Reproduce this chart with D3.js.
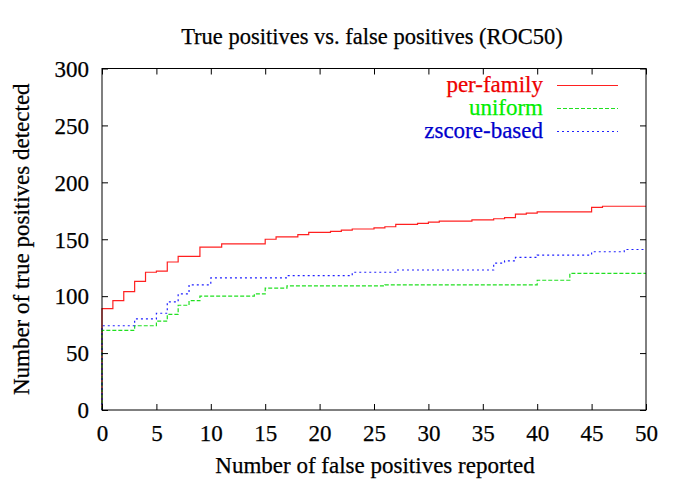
<!DOCTYPE html>
<html>
<head>
<meta charset="utf-8">
<script src="https://cdn.jsdelivr.net/npm/d3@7"></script>
<style>
  html, body { margin: 0; padding: 0; background: #fff; }
  svg { display: block; }
  svg text { font-family: "Liberation Serif", "Times New Roman", serif !important; }
</style>
</head>
<body>
<svg id="chart" width="685" height="479"></svg>
<script>
// ---- Data (step functions: value holds from x until next x) ----
const perFamilyX = [0, 0, 1, 2, 3, 4, 5, 6, 7, 9, 11, 15, 16, 18, 19, 21, 22, 23, 25, 26, 27, 29, 30, 31, 34, 36, 37, 38, 39, 40, 45, 46, 50];
const perFamilyY = [0, 89, 96, 104, 113, 121, 122, 130, 135, 143, 146, 150, 152, 154, 156, 157, 158, 159, 160, 161, 163, 164, 165, 166, 167, 168, 169, 172, 173, 174, 178, 179, 179];

const uniformX = [0, 0, 3, 5, 6, 7, 8, 9, 14, 15, 17, 26, 40, 43, 50];
const uniformY = [0, 70, 74, 78, 84, 92, 96, 100, 102, 107, 109, 110, 114, 120, 120];

const zscoreX = [0, 0, 3, 5, 6, 7, 8, 10, 17, 23, 27, 36, 37, 38, 40, 45, 48, 50];
const zscoreY = [0, 74, 80, 85, 95, 102, 110, 116, 118, 121, 123, 129, 131, 134, 136, 139, 141, 141];

const seriesNames = ["per-family", "uniform", "zscore-based"];
const seriesColors = ["#ff2020", "#20e020", "#2020ff"];
const seriesDash = [null, "4,2", "2,3"];

const xTicks = [0, 5, 10, 15, 20, 25, 30, 35, 40, 45, 50];
const yTicks = [0, 50, 100, 150, 200, 250, 300];

const titleText = "True positives vs. false positives (ROC50)";
const xLabel = "Number of false positives reported";
const yLabel = "Number of true positives detected";

// ---- Layout ----
const svg = d3.select("#chart");
const L = 102, R = 646, T = 68.5, B = 410;
const FONT = '"Liberation Serif", "Times New Roman", serif';

const x = d3.scaleLinear().domain([0, 50]).range([L, R]);
const y = d3.scaleLinear().domain([0, 300]).range([B, T]);

const series = [
  { name: seriesNames[0], xs: perFamilyX, ys: perFamilyY },
  { name: seriesNames[1], xs: uniformX, ys: uniformY },
  { name: seriesNames[2], xs: zscoreX, ys: zscoreY }
];

const line = d3.line()
  .x(d => x(d[0]))
  .y(d => y(d[1]))
  .curve(d3.curveStepAfter);

series.forEach((s, i) => {
  const pts = s.xs.map((v, k) => [v, s.ys[k]]);
  svg.append("path")
    .datum(pts)
    .attr("fill", "none")
    .attr("stroke", seriesColors[i])
    .attr("stroke-width", 1.2)
    .attr("stroke-dasharray", seriesDash[i])
    .attr("d", line);
});

// Frame
svg.append("rect")
  .attr("x", L).attr("y", T)
  .attr("width", R - L).attr("height", B - T)
  .attr("fill", "none").attr("stroke", "#000").attr("stroke-width", 1);

const tickLen = 6;
const fs = 23;

const xAxisB = d3.axisBottom(x).tickValues(xTicks).tickSize(-tickLen).tickPadding(0).tickFormat(d3.format("d"));
const gxB = svg.append("g").attr("transform", `translate(0,${B})`).call(xAxisB);
const xAxisT = d3.axisTop(x).tickValues(xTicks).tickSize(-tickLen).tickFormat("");
const gxT = svg.append("g").attr("transform", `translate(0,${T})`).call(xAxisT);
const yAxisL = d3.axisLeft(y).tickValues(yTicks).tickSize(-tickLen).tickPadding(0).tickFormat(d3.format("d"));
const gyL = svg.append("g").attr("transform", `translate(${L},0)`).call(yAxisL);
const yAxisR = d3.axisRight(y).tickValues(yTicks).tickSize(-tickLen).tickFormat("");
const gyR = svg.append("g").attr("transform", `translate(${R},0)`).call(yAxisR);

[gxB, gxT, gyL, gyR].forEach(g => {
  g.attr("font-family", FONT).attr("font-size", fs);
  g.select(".domain").remove();
  g.selectAll(".tick line").attr("stroke", "#000");
  g.selectAll("text")
    .attr("fill", "#000")
    .attr("stroke", "#000")
    .attr("stroke-width", 0.25);
});
gxB.selectAll(".tick text").attr("dy", null).attr("y", 31);
gyL.selectAll(".tick text").attr("x", -13).attr("dy", "0.34em");

function label(txt) {
  return svg.append("text")
    .attr("font-family", FONT)
    .attr("font-size", fs)
    .attr("fill", "#000")
    .attr("stroke", "#000")
    .attr("stroke-width", 0.25)
    .text(txt);
}

// Title
label(titleText)
  .attr("x", 372).attr("y", 44)
  .attr("font-size", 22.5)
  .attr("text-anchor", "middle");

// X label
label(xLabel)
  .attr("x", 375).attr("y", 473)
  .attr("text-anchor", "middle");

// Y label
label(yLabel)
  .attr("transform", `translate(29,${(T + B) / 2}) rotate(-90)`)
  .attr("text-anchor", "middle");

// Legend
const legendRows = [85, 108, 131];
const legendTextColors = ["#ee0000", "#00ee00", "#0000cc"];
series.forEach((s, i) => {
  const ly = legendRows[i];
  label(s.name)
    .attr("x", 543).attr("y", ly)
    .attr("dy", "0.32em")
    .attr("text-anchor", "end")
    .attr("fill", legendTextColors[i])
    .attr("stroke", legendTextColors[i]);
  svg.append("line")
    .attr("x1", 557).attr("x2", 618)
    .attr("y1", ly + 0.5).attr("y2", ly + 0.5)
    .attr("stroke", seriesColors[i])
    .attr("stroke-width", 1.2)
    .attr("stroke-dasharray", seriesDash[i]);
});
</script>
</body>
</html>
